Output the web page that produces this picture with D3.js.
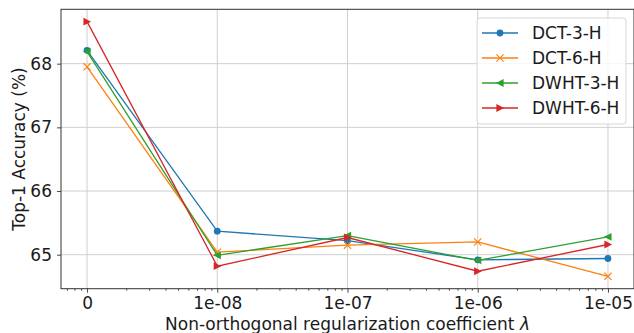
<!DOCTYPE html>
<html><head><meta charset="utf-8">
<script src="https://cdn.jsdelivr.net/npm/d3@7"></script>
<style>body{margin:0;background:#fff}svg{display:block}text{font-family:"DejaVu Sans",sans-serif;fill:#1a1a1a}</style>
</head><body><svg id="c" width="634" height="333"></svg>
<script>
// x categories: "0" is drawn at 1e-9 on the log axis
const xLabels = ["0", "1e-08", "1e-07", "1e-06", "1e-05"];
const xValues = [1e-9, 1e-8, 1e-7, 1e-6, 1e-5];
const yTicks = [65, 66, 67, 68];
const seriesNames = ["DCT-3-H", "DCT-6-H", "DWHT-3-H", "DWHT-6-H"];
const dct3 = [68.21, 65.37, 65.22, 64.92, 64.94];
const dct6 = [67.95, 65.04, 65.15, 65.20, 64.66];
const dwht3 = [68.19, 64.99, 65.30, 64.91, 65.28];
const dwht6 = [68.66, 64.82, 65.27, 64.74, 65.16];
const colors = ["#1f77b4", "#ff7f0e", "#2ca02c", "#d62728"];
const markers = ["circle", "x", "left", "right"];
const allSeries = [dct3, dct6, dwht3, dwht6];

const L = 61, R = 634, T = 9.3, B = 288.7;
const FS = "17px";
const svg = d3.select("#c");
const x = d3.scaleLog().domain([Math.pow(10, -9.2), Math.pow(10, -4.8)]).range([L, R]);
const y = d3.scaleLinear().domain([64.466, 68.854]).range([B, T]);

// grid
const g = svg.append("g");
xValues.forEach(v => g.append("line").attr("x1", x(v)).attr("x2", x(v)).attr("y1", T).attr("y2", B)
  .attr("stroke", "#cfcfcf").attr("stroke-width", 1));
yTicks.forEach(v => g.append("line").attr("x1", L).attr("x2", R).attr("y1", y(v)).attr("y2", y(v))
  .attr("stroke", "#cfcfcf").attr("stroke-width", 1));

// axes
const xAxis = d3.axisBottom(x).tickValues(xValues).tickFormat((d, i) => xLabels[i]).tickSize(4).tickPadding(4.5);
const minor = [];
for (let e = -10; e <= -5; e++) for (let m = 2; m <= 9; m++) { const v = m * Math.pow(10, e); if (v > x.domain()[0] && v < x.domain()[1]) minor.push(v); }
const xMinor = d3.axisBottom(x).tickValues(minor).tickFormat("").tickSize(2);
const yAxis = d3.axisLeft(y).tickValues(yTicks).tickFormat(d3.format("d")).tickSize(4).tickPadding(5);

const gx = svg.append("g").attr("transform", `translate(0,${B})`).call(xAxis);
const gxm = svg.append("g").attr("transform", `translate(0,${B})`).call(xMinor);
const gy = svg.append("g").attr("transform", `translate(${L},0)`).call(yAxis);
[gx, gxm, gy].forEach(a => { a.select(".domain").remove(); a.selectAll("line").attr("stroke", "#333").attr("stroke-width", 0.9); });
[gx, gy].forEach(a => a.selectAll("text").style("font-size", FS).attr("fill", "#1a1a1a"));

svg.append("rect").attr("x", L).attr("y", T).attr("width", R - L).attr("height", B - T)
  .attr("fill", "none").attr("stroke", "#333").attr("stroke-width", 1);

// series
function marker(sel, type, color) {
  const s = 3.6;
  if (type === "circle") sel.append("circle").attr("r", 3.4).attr("fill", color);
  else if (type === "x") sel.append("path").attr("d", `M${-s},${-s}L${s},${s}M${-s},${s}L${s},${-s}`).attr("stroke", color).attr("stroke-width", 1.1).attr("fill", "none");
  else if (type === "left") sel.append("path").attr("d", `M${-s-0.5},0L${s},${-s-0.3}L${s},${s+0.3}Z`).attr("fill", color);
  else sel.append("path").attr("d", `M${s+0.5},0L${-s},${-s-0.3}L${-s},${s+0.3}Z`).attr("fill", color);
}
const line = d3.line().x((d, i) => x(xValues[i])).y(d => y(d));
allSeries.forEach((vals, k) => {
  svg.append("path").datum(vals).attr("d", line).attr("fill", "none").attr("stroke", colors[k]).attr("stroke-width", 1.3);
  vals.forEach((v, i) => {
    const m = svg.append("g").attr("transform", `translate(${x(xValues[i])},${y(v)})`);
    marker(m, markers[k], colors[k]);
  });
});

// legend
const lg = svg.append("g").attr("transform", "translate(477,18)");
lg.append("rect").attr("width", 149).attr("height", 106).attr("rx", 3).attr("fill", "#fff").attr("fill-opacity", 0.8)
  .attr("stroke", "#d6d6d6").attr("stroke-width", 1);
seriesNames.forEach((n, k) => {
  const yy = 15 + k * 25;
  lg.append("line").attr("x1", 5).attr("x2", 41).attr("y1", yy).attr("y2", yy).attr("stroke", colors[k]).attr("stroke-width", 1.3);
  const m = lg.append("g").attr("transform", `translate(23,${yy})`);
  marker(m, markers[k], colors[k]);
  lg.append("text").attr("x", 55).attr("y", yy + 6).style("font-size", FS).text(n);
});

// axis labels
svg.append("text").attr("x", (L + R) / 2).attr("y", 329.6).attr("text-anchor", "middle").style("font-size", FS)
  .text("Non-orthogonal regularization coefficient ").append("tspan").style("font-style", "italic").text("λ");
svg.append("text").attr("transform", `translate(25,${(T + B) / 2}) rotate(-90)`).attr("text-anchor", "middle")
  .style("font-size", FS).text("Top-1 Accuracy (%)");
</script></body></html>
